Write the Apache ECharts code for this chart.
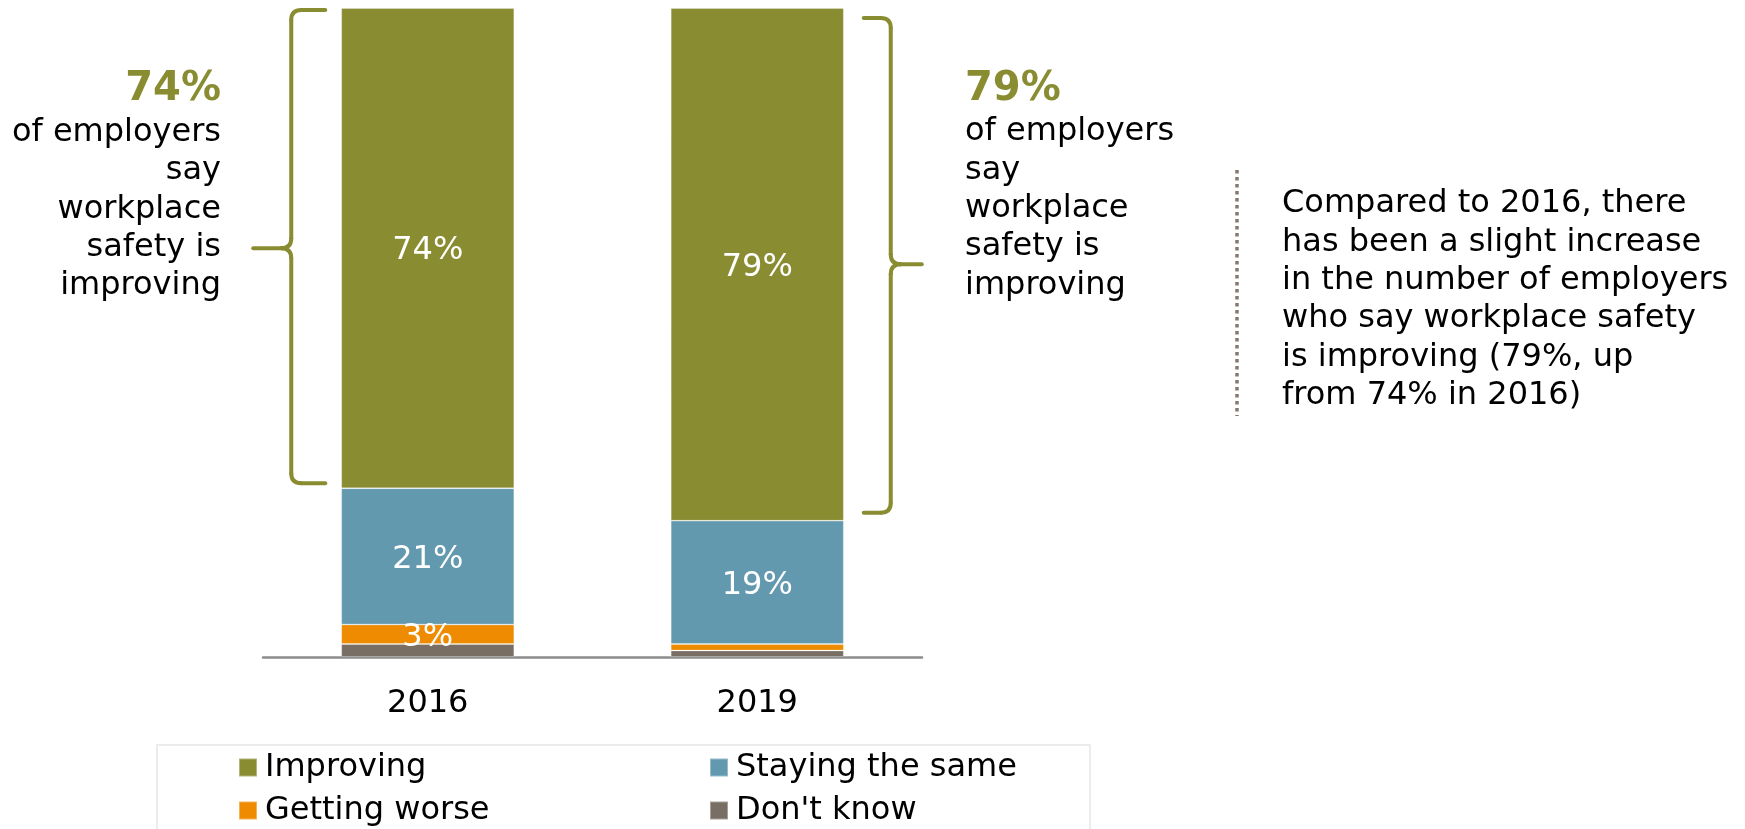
<!DOCTYPE html>
<html><head><meta charset="utf-8">
<script src="https://cdn.jsdelivr.net/npm/echarts@6/dist/echarts.min.js"></script>
<style>html,body{margin:0;padding:0;background:#fff}#c{width:1745px;height:829px}</style>
</head><body><div id="c"></div>
<script>
// ---- data ----
const categories = ['2016', '2019'];
const improving = [74, 79];
const stayingSame = [21, 19];
const gettingWorse = [3, 1];
const dontKnow = [2, 1];
const seriesNames = ['Improving', 'Staying the same', 'Getting worse', "Don't know"];
const noteLines = ['of employers', 'say', 'workplace', 'safety is', 'improving'];
const sideText = ['Compared to 2016, there', 'has been a slight increase', 'in the number of employers',
  'who say workplace safety', 'is improving (79%, up', 'from 74% in 2016)'];

const colors = { imp: '#898C31', same: '#6399AF', worse: '#EE8B00', dk: '#786E64' };
const FONT = 'DejaVu Sans, Verdana, sans-serif';

const chart = echarts.init(document.getElementById('c'), null, { renderer: 'canvas' });

function mkSeries(name, data, color, minLabel) {
  return {
    name, type: 'bar', stack: 'total', data, barWidth: 173,
    itemStyle: { color, borderColor: 'rgba(255,255,255,0.35)', borderWidth: 0.8 },
    label: {
      show: true, position: 'inside', offset: [0, 3], color: '#fff', fontFamily: FONT, fontSize: 32,
      formatter: p => (p.value >= minLabel ? p.value + '%' : '')
    },
    emphasis: { disabled: true }, animation: false
  };
}

const legendText = { fontFamily: FONT, fontSize: 32, color: '#000', lineHeight: 33, padding: [0, 0, 0, 3] };

chart.setOption({
  animation: false,
  grid: { left: 263, right: 823, top: 8, bottom: 172, containLabel: false },
  xAxis: {
    type: 'category', data: categories,
    axisLine: { lineStyle: { color: '#8c8c8c', width: 2.5 } },
    axisTick: { show: false },
    axisLabel: { fontFamily: FONT, fontSize: 32, color: '#000', margin: 31 }
  },
  yAxis: { type: 'value', min: 0, max: 100, show: false, splitLine: { show: false } },
  legend: [
    { data: [seriesNames[0], seriesNames[2]], orient: 'vertical', left: 238, top: 751, padding: 0,
      itemWidth: 18, itemHeight: 18, itemGap: 10, icon: 'rect', textStyle: legendText, selectedMode: false },
    { data: [seriesNames[1], seriesNames[3]], orient: 'vertical', left: 709, top: 751, padding: 0,
      itemWidth: 18, itemHeight: 18, itemGap: 10, icon: 'rect', textStyle: legendText, selectedMode: false }
  ],
  series: [
    mkSeries(seriesNames[3], dontKnow, colors.dk, 1000),
    mkSeries(seriesNames[2], gettingWorse, colors.worse, 3),
    mkSeries(seriesNames[1], stayingSame, colors.same, 0),
    mkSeries(seriesNames[0], improving, colors.imp, 0)
  ]
});

// ---- annotations positioned from the chart's scales ----
const px = (i, v) => chart.convertToPixel({ gridIndex: 0 }, [i, v]);
const half = 86.5;
const stroke = { stroke: colors.imp, lineWidth: 4, lineCap: 'round', fill: null };

function brace(xv, yt, yb, ym, armLen, tipLen, dir) {
  const r = 10, xa = xv - dir * armLen, xt = xv + dir * tipLen, els = [];
  const L = (x1, y1, x2, y2) => els.push({ type: 'line', silent: true, shape: { x1, y1, x2, y2 }, style: stroke });
  const B = (x1, y1, cx, cy, x2, y2) => els.push({ type: 'bezierCurve', silent: true,
    shape: { x1, y1, x2, y2, cpx1: cx, cpy1: cy }, style: stroke });
  L(xa, yt, xv - dir * r, yt);
  B(xv - dir * r, yt, xv, yt, xv, yt + r);
  L(xv, yt + r, xv, ym - r);
  B(xv, ym - r, xv, ym, xv + dir * r, ym);
  L(xv + dir * r, ym, xt, ym);
  B(xv, ym + r, xv, ym, xv + dir * r, ym);
  L(xv, ym + r, xv, yb - r);
  B(xv, yb - r, xv, yb, xv - dir * r, yb);
  L(xv - dir * r, yb, xa, yb);
  return els;
}

const total0 = improving[0] + stayingSame[0] + gettingWorse[0] + dontKnow[0];
const total1 = improving[1] + stayingSame[1] + gettingWorse[1] + dontKnow[1];
const c0 = px(0, total0), b0 = px(0, total0 - improving[0]);
const c1 = px(1, total1), b1 = px(1, total1 - improving[1]);

const leftX = c0[0] - half, rightX = c1[0] + half;
const g = [];
// left brace (2016)
g.push(...brace(leftX - 50, c0[1] + 2, b0[1] - 5, (c0[1] + b0[1]) / 2, 34, 38, -1));
// right brace (2019)
g.push(...brace(rightX + 47, c1[1] + 10, b1[1] - 8, (c1[1] + b1[1]) / 2, 27, 31, 1));

// left note
g.push({ type: 'text', silent: true, x: 221, y: 89.5, style: { text: improving[0] + '%', fill: colors.imp,
  font: 'bold 40px ' + FONT, align: 'right', verticalAlign: 'middle' } });
g.push({ type: 'text', silent: true, x: 221, y: 113.5, style: { text: noteLines.join('\n'), fill: '#000',
  font: '32px ' + FONT, lineHeight: 38.3, align: 'right', verticalAlign: 'top' } });
// right note
g.push({ type: 'text', silent: true, x: 965, y: 89.5, style: { text: improving[1] + '%', fill: colors.imp,
  font: 'bold 40px ' + FONT, align: 'left', verticalAlign: 'middle' } });
g.push({ type: 'text', silent: true, x: 965, y: 113, style: { text: noteLines.join('\n'), fill: '#000',
  font: '32px ' + FONT, lineHeight: 38.3, align: 'left', verticalAlign: 'top' } });

// side commentary with dotted rule
g.push({ type: 'line', silent: true, shape: { x1: 1237, y1: 170, x2: 1237, y2: 416 },
  style: { stroke: '#857a70', lineWidth: 3.5, lineDash: [3.5, 3.5] } });
g.push({ type: 'text', silent: true, x: 1282, y: 185, style: { text: sideText.join('\n'), fill: '#000',
  font: '32px ' + FONT, lineHeight: 38.3, align: 'left', verticalAlign: 'top' } });

// legend frame
g.push({ type: 'rect', silent: true, z: -1, shape: { x: 157, y: 745, width: 933, height: 130 },
  style: { fill: '#fff', stroke: '#ececec', lineWidth: 2 } });

chart.setOption({ graphic: { elements: g } });
</script>
</body></html>
